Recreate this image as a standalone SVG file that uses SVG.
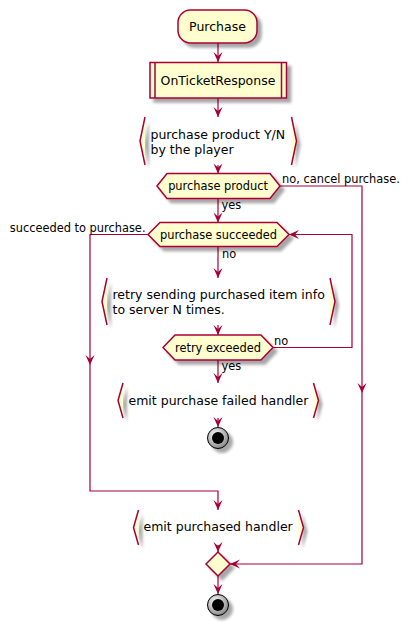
<svg xmlns="http://www.w3.org/2000/svg" width="410" height="626" viewBox="0 0 410 626">
<defs>
<filter id="sh" x="-20%" y="-20%" width="150%" height="150%">
<feGaussianBlur in="SourceAlpha" stdDeviation="1.6"/>
<feOffset dx="3.5" dy="3.5" result="b"/>
<feComponentTransfer><feFuncA type="linear" slope="0.35"/></feComponentTransfer>
<feMerge><feMergeNode/><feMergeNode in="SourceGraphic"/></feMerge>
</filter>
<radialGradient id="sg" cx="40%" cy="35%" r="65%">
<stop offset="0" stop-color="#ffffff"/>
<stop offset="1" stop-color="#8a8a8a"/>
</radialGradient>
<marker id="ah" markerUnits="userSpaceOnUse" markerWidth="12" markerHeight="12" viewBox="-11 -6 12 12" refX="0" refY="0" orient="auto">
<path d="M0,0 L-10,-4.5 L-6,0 L-10,4.5 Z" fill="#A80036"/>
</marker>
<style>
.n{fill:#FEFECE;stroke:#A80036;stroke-width:1.5}
.bf{fill:#FEFECE;stroke:none}
.bs{fill:none;stroke:#A80036;stroke-width:1.5}
.t{font-family:"DejaVu Sans","Liberation Sans",sans-serif;font-size:12.5px;fill:#000}
.d{font-family:"DejaVu Sans","Liberation Sans",sans-serif;font-size:11.4px;fill:#000}
.e{fill:none;stroke:#A80036;stroke-width:1.2}
.ea{fill:none;stroke:#A80036;stroke-width:1.2;marker-end:url(#ah)}
</style>
</defs>
<rect width="410" height="626" fill="#fff"/>

<g id="connectors">
<path class="ea" d="M218,43 V62"/>
<path class="ea" d="M218,98 V117"/>
<path class="ea" d="M218,165 V173.5"/>
<path class="ea" d="M218,198.5 V222.5"/>
<path class="ea" d="M280,186 H362 V393"/>
<path class="ea" d="M362,393 V564 H230"/>
<path class="ea" d="M148,234.5 H90 V365"/>
<path class="ea" d="M90,365 V491 H218 V510"/>
<path class="ea" d="M218,246.5 V278"/>
<path class="ea" d="M218,325 V335"/>
<path class="ea" d="M273,347.5 H352 V234.5 H289"/>
<path class="ea" d="M218,360 V383"/>
<path class="ea" d="M218,418 V427"/>
<path class="ea" d="M218,545 V552"/>
<path class="ea" d="M218,576 V594"/>
<text class="d" x="282" y="183">no, cancel purchase.</text>
<text class="d" x="221.5" y="209">yes</text>
<text class="d" x="145.5" y="231.5" text-anchor="end">succeeded to purchase.</text>
<text class="d" x="222" y="258">no</text>
<text class="d" x="274" y="345">no</text>
<text class="d" x="221.5" y="370">yes</text>
</g>

<g id="start">
<rect class="n" x="178" y="10" width="79" height="33" rx="12.5" filter="url(#sh)"/>
<text class="t" x="217.5" y="31" text-anchor="middle">Purchase</text>
</g>

<g id="onTicketResponse">
<rect class="n" x="150" y="62.5" width="136.5" height="35.5" filter="url(#sh)"/>
<path class="bs" d="M155,62.5 V98 M281.5,62.5 V98"/>
<text class="t" x="218" y="85" text-anchor="middle">OnTicketResponse</text>
</g>

<g id="purchaseInput">
<g filter="url(#sh)">
<path class="bf" d="M145,117 L140,141 L145,165 Z"/>
<path class="bf" d="M291.5,117 L296.5,141 L291.5,165 Z"/>
</g>
<path class="bs" d="M145,117 L140,141 L145,165"/>
<path class="bs" d="M291.5,117 L296.5,141 L291.5,165"/>
<text class="t" x="150.5" y="139">purchase product Y/N</text>
<text class="t" x="150.5" y="153.5">by the player</text>
</g>

<g id="purchaseProduct">
<polygon class="n" points="157,186 167,173.5 270,173.5 280,186 270,198.5 167,198.5" filter="url(#sh)"/>
<text class="d" x="218" y="190" text-anchor="middle">purchase product</text>
</g>

<g id="purchaseSucceeded">
<polygon class="n" points="148,234.5 160,222.5 277,222.5 289,234.5 277,246.5 160,246.5" filter="url(#sh)"/>
<text class="d" x="218.5" y="238.5" text-anchor="middle">purchase succeeded</text>
</g>

<g id="retrySending">
<g filter="url(#sh)">
<path class="bf" d="M107,278 L102,301.5 L107,325 Z"/>
<path class="bf" d="M330,278 L335,301.5 L330,325 Z"/>
</g>
<path class="bs" d="M107,278 L102,301.5 L107,325"/>
<path class="bs" d="M330,278 L335,301.5 L330,325"/>
<text class="t" x="112.5" y="299">retry sending purchased item info</text>
<text class="t" x="112.5" y="313.5">to server N times.</text>
</g>

<g id="retryExceeded">
<polygon class="n" points="163,347.5 175,335 261,335 273,347.5 261,360 175,360" filter="url(#sh)"/>
<text class="d" x="218" y="351.5" text-anchor="middle">retry exceeded</text>
</g>

<g id="emitFailed">
<g filter="url(#sh)">
<path class="bf" d="M123,383 L118,400.5 L123,418 Z"/>
<path class="bf" d="M313.5,383 L318.5,400.5 L313.5,418 Z"/>
</g>
<path class="bs" d="M123,383 L118,400.5 L123,418"/>
<path class="bs" d="M313.5,383 L318.5,400.5 L313.5,418"/>
<text class="t" x="128.5" y="405">emit purchase failed handler</text>
</g>

<g id="stop1">
<circle cx="218" cy="438" r="10.5" fill="url(#sg)" stroke="#000" stroke-width="1" filter="url(#sh)"/>
<circle cx="218" cy="438" r="6" fill="#000"/>
</g>

<g id="emitPurchased">
<g filter="url(#sh)">
<path class="bf" d="M138.5,510 L133.5,527.5 L138.5,545 Z"/>
<path class="bf" d="M298.5,510 L303.5,527.5 L298.5,545 Z"/>
</g>
<path class="bs" d="M138.5,510 L133.5,527.5 L138.5,545"/>
<path class="bs" d="M298.5,510 L303.5,527.5 L298.5,545"/>
<text class="t" x="143.5" y="531">emit purchased handler</text>
</g>

<g id="merge">
<polygon class="n" points="206,564 218,552 230,564 218,576" filter="url(#sh)"/>
</g>

<g id="stop2">
<circle cx="218" cy="605" r="10.5" fill="url(#sg)" stroke="#000" stroke-width="1" filter="url(#sh)"/>
<circle cx="218" cy="605" r="6" fill="#000"/>
</g>
</svg>
